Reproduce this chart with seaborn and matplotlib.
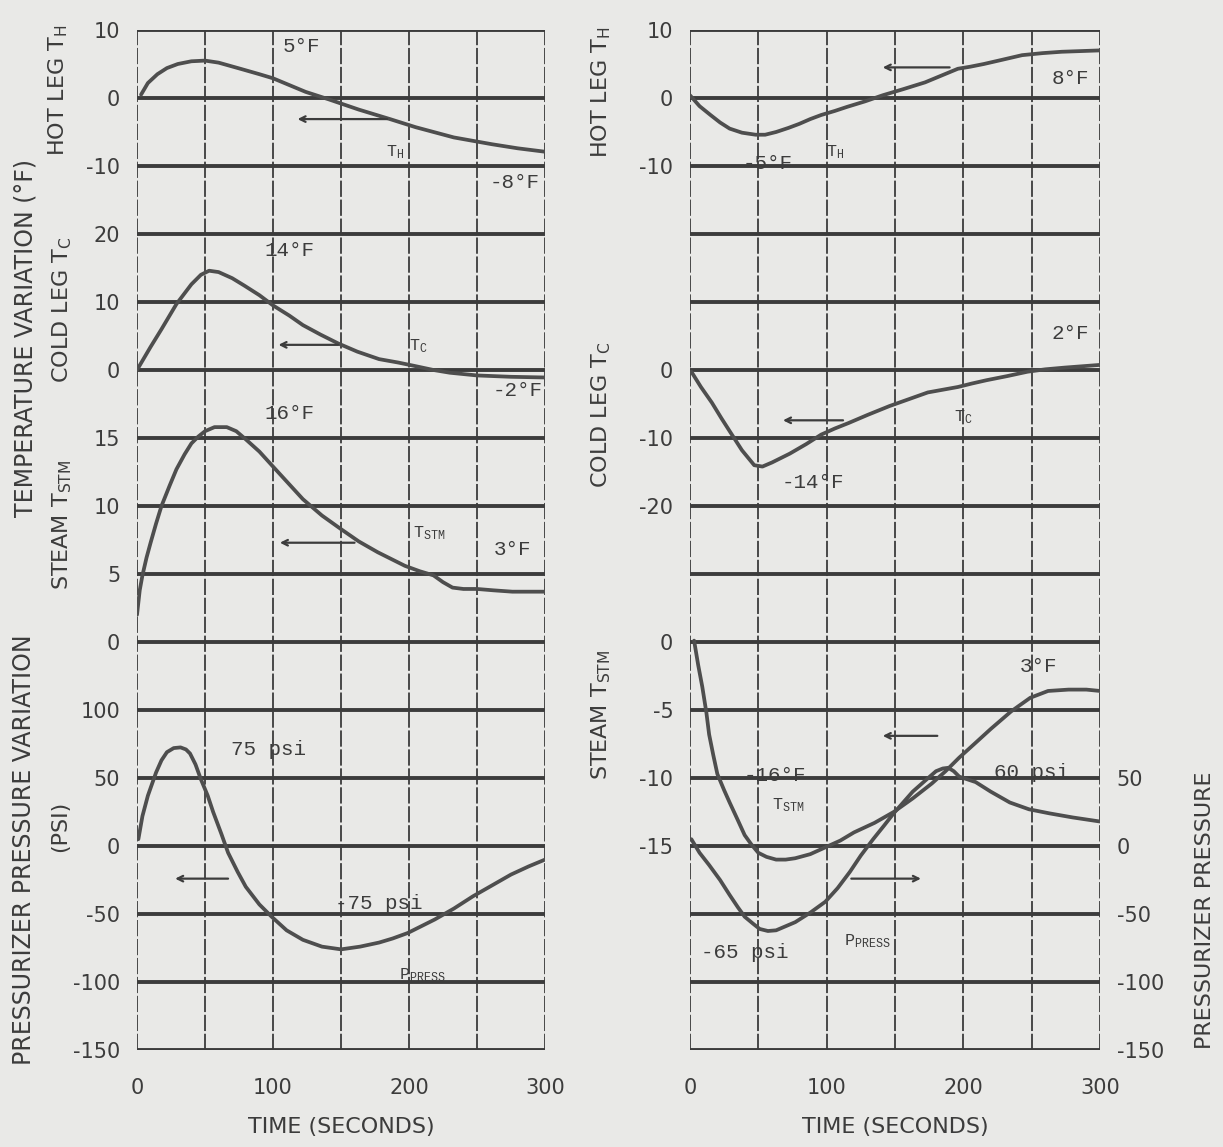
import matplotlib
matplotlib.use('Agg')
import numpy as np
import pandas as pd
import matplotlib.pyplot as plt
import seaborn as sns

#======================================================================================
# Data (time in seconds)
# Left panel
tHotL  = [3, 8, 15, 22, 30, 40, 50, 60, 76, 90, 100, 112, 124, 141, 163, 186, 205, 233, 261, 280, 300]
vHotL  = [0.5, 2.2, 3.5, 4.4, 5.0, 5.4, 5.5, 5.2, 4.3, 3.5, 2.9, 1.9, 0.9, -0.2, -1.7, -3.1, -4.3, -5.8, -6.8, -7.4, -7.9]

tColdL = [0, 10, 18, 29, 40, 47, 53, 60, 70, 79, 90, 100, 112, 122, 135, 148, 162, 178, 192, 204,
          218, 230, 250, 275, 300]
vColdL = [0, 3.4, 6.0, 9.7, 12.6, 14.0, 14.6, 14.4, 13.5, 12.4, 11.0, 9.5, 8.0, 6.6, 5.2, 3.9, 2.7, 1.6,
          1.1, 0.6, 0.0, -0.4, -0.8, -1.0, -1.1]

tStmL  = [0, 2, 4, 7, 10, 14, 18, 24, 29, 35, 40, 45, 50, 57, 66, 73, 80, 90, 100, 111, 122, 136, 150,
          163, 177, 187, 197, 208, 218, 225, 232, 240, 250, 262, 276, 290, 300]
vStmL  = [2.0, 3.8, 4.9, 6.2, 7.3, 8.7, 10.0, 11.5, 12.7, 13.8, 14.6, 15.1, 15.5, 15.8, 15.8, 15.5, 14.9,
          14.0, 12.9, 11.7, 10.5, 9.3, 8.3, 7.4, 6.6, 6.1, 5.6, 5.2, 4.9, 4.4, 4.0, 3.9, 3.9, 3.8, 3.7,
          3.7, 3.7]

tPrsL  = [1, 4, 8, 14, 18, 22, 27, 32, 36, 39, 43, 47, 52, 56, 62, 67, 74, 80, 90, 99, 110, 122, 136,
          150, 164, 178, 188, 199, 209, 219, 233, 247, 261, 275, 288, 300]
vPrsL  = [5, 22, 37, 54, 63, 69, 72, 72.5, 71, 68, 60, 49, 37, 25, 9, -5, -19, -30, -43, -52, -62, -69,
          -74, -76, -74, -71, -68, -64, -59, -54, -46, -37, -29, -21, -15, -10]

# Right panel
tHotR  = [0, 7, 15, 22, 29, 38, 48, 55, 63, 72, 80, 88, 96, 106, 115, 128, 141, 156, 172, 184, 196,
          205, 215, 228, 243, 258, 272, 286, 300]
vHotR  = [0.4, -1.2, -2.5, -3.6, -4.5, -5.1, -5.4, -5.4, -5.0, -4.4, -3.8, -3.1, -2.5, -1.9, -1.3,
          -0.5, 0.4, 1.3, 2.3, 3.3, 4.3, 4.6, 5.0, 5.6, 6.3, 6.6, 6.8, 6.9, 7.0]

tColdR = [1, 8, 16, 23, 30, 38, 47, 53, 60, 73, 85, 96, 106, 116, 130, 146, 160, 174, 185, 196, 206,
          217, 232, 247, 260, 274, 287, 300]
vColdR = [-0.25, -2.5, -4.8, -7.1, -9.3, -11.8, -14.0, -14.2, -13.6, -12.3, -10.9, -9.5, -8.6, -7.8,
          -6.6, -5.3, -4.3, -3.3, -2.9, -2.5, -2.0, -1.5, -0.9, -0.25, 0.1, 0.35, 0.55, 0.75]

tStmR  = [3, 6, 9, 12, 14, 17, 20, 25, 29, 35, 40, 45, 50, 56, 63, 70, 77, 88, 99, 110, 120, 135, 149,
          163, 177, 187, 197, 208, 220, 235, 249, 262, 277, 290, 300]
vStmR  = [0.1, -1.7, -3.3, -5.2, -6.8, -8.3, -9.7, -10.9, -11.8, -13.1, -14.2, -14.9, -15.5, -15.8,
          -16.0, -16.0, -15.9, -15.6, -15.1, -14.6, -14.0, -13.3, -12.5, -11.5, -10.4, -9.5, -8.5,
          -7.5, -6.4, -5.1, -4.1, -3.6, -3.5, -3.5, -3.6]

tPrsR  = [1, 7, 14, 22, 29, 35, 40, 46, 51, 57, 63, 70, 77, 88, 99, 108, 117, 125, 134, 142, 149, 156,
          163, 172, 180, 185, 189, 193, 197, 203, 209, 220, 234, 248, 263, 280, 300]
vPrsR  = [5, -5, -14, -25, -36, -45, -52, -57, -61, -62.5, -62, -59, -56, -49, -41, -31, -19, -7, 5, 15,
          24, 32, 40, 48, 55, 57, 57.5, 55, 51, 49, 47, 40, 32, 27, 24, 21, 18]

timeTicks = [0, 100, 200, 300]
#======================================================================================

sns.set_style('white')
plt.rcParams['font.family'] = ['DejaVu Sans']
plt.rcParams['axes.unicode_minus'] = False

paper = '#e9e9e7'
ink   = '#3c3c3c'
curve = '#4e4e4e'
typeFont = ['Liberation Mono', 'DejaVu Sans Mono']

fig = plt.figure(figsize=(12.23, 11.47), dpi=100, facecolor=paper)

panelBottom = 1 - 1050 / 1147
panelHeight = 1020 / 1147


def makePanel(leftPx, rightPx):
    rect = [leftPx / 1223, panelBottom, (rightPx - leftPx) / 1223, panelHeight]
    base = fig.add_axes(rect)
    base.set_facecolor(paper)
    base.set_xlim(0, 300)
    base.set_ylim(0, 15)
    for k in range(16):
        base.axhline(k, color=ink, lw=2.8, zorder=1)
    for x in range(0, 301, 50):
        base.axvline(x, color=ink, lw=1.3, ls=(0, (9, 1.5)), zorder=1)
    base.set_yticks([])
    base.set_xticks(timeTicks)
    base.set_xticklabels([str(v) for v in timeTicks])
    base.tick_params(axis='x', length=0, labelsize=15, colors=ink, pad=20)
    base.set_xlabel('TIME (SECONDS)', fontsize=16, color=ink, labelpad=14)
    for s in base.spines.values():
        s.set_visible(False)
    return base, rect


def overlay(rect, lo, hi, ticks, side='left'):
    ax = fig.add_axes(rect)
    ax.patch.set_alpha(0)
    ax.set_xlim(0, 300)
    ax.set_ylim(lo, hi)
    ax.set_xticks([])
    ax.set_yticks(ticks)
    ax.set_yticklabels([str(v) for v in ticks])
    ax.yaxis.set_ticks_position(side)
    ax.tick_params(axis='y', length=0, labelsize=15, colors=ink, pad=12)
    for s in ax.spines.values():
        s.set_visible(False)
    return ax


def draw(ax, t, v):
    sns.lineplot(x=t, y=v, ax=ax, color=curve, lw=2.7, sort=False)
    ax.set_xlabel('')
    ax.set_ylabel('')


def note(ax, x, y, s, size=15):
    ax.text(x, y, s, fontsize=size, color=ink, family=typeFont, ha='center', va='center')


def arrow(ax, x0, x1, y):
    ax.annotate('', xy=(x1, y), xytext=(x0, y),
                arrowprops=dict(arrowstyle='->', color=ink, lw=1.6))


#======================================================================================
# Left panel
baseL, rectL = makePanel(137, 545)
axHL = overlay(rectL, -140, 10, [10, 0, -10])
axCL = overlay(rectL, -100, 50, [20, 10, 0])
axSL = overlay(rectL, -30, 45, [15, 10, 5, 0])
axPL = overlay(rectL, -150, 600, [100, 50, 0, -50, -100, -150])

draw(axHL, tHotL, vHotL)
draw(axCL, tColdL, vColdL)
draw(axSL, tStmL, vStmL)
draw(axPL, tPrsL, vPrsL)

note(axHL, 121, 7.5, '5°F')
note(axHL, 190, -8.0, r'$\mathregular{T_H}$', 12)
note(axHL, 278, -12.5, '-8°F')
arrow(axHL, 186, 116, -3.1)

note(axCL, 112, 17.5, '14°F')
note(axCL, 207, 3.5, r'$\mathregular{T_C}$', 12)
note(axCL, 280, -3.0, '-2°F')
arrow(axCL, 150, 102, 3.7)

note(axSL, 112, 16.8, '16°F')
note(axSL, 215, 8.0, r'$\mathregular{T_{STM}}$', 12)
note(axSL, 276, 6.8, '3°F')
arrow(axSL, 162, 103, 7.3)

note(axPL, 97, 71, '75 psi')
note(axPL, 178, -42, '-75 psi')
note(axPL, 210, -95, r'$\mathregular{P_{PRESS}}$', 12)
arrow(axPL, 69, 26, -24)

#======================================================================================
# Right panel
baseR, rectR = makePanel(690, 1100)
axHR = overlay(rectR, -140, 10, [10, 0, -10])
axCR = overlay(rectR, -100, 50, [0, -10, -20])
axSR = overlay(rectR, -30, 45, [0, -5, -10, -15])
axPR = overlay(rectR, -150, 600, [50, 0, -50, -100, -150], side='right')

draw(axHR, tHotR, vHotR)
draw(axCR, tColdR, vColdR)
draw(axSR, tStmR, vStmR)
draw(axPR, tPrsR, vPrsR)

note(axHR, 278, 2.8, '8°F')
note(axHR, 106, -8.0, r'$\mathregular{T_H}$', 12)
note(axHR, 57, -9.6, '-5°F')
arrow(axHR, 192, 139, 4.5)

note(axCR, 90, -16.5, '-14°F')
note(axCR, 200, -7.0, r'$\mathregular{T_C}$', 12)
note(axCR, 278, 5.3, '2°F')
arrow(axCR, 114, 66, -7.4)

note(axSR, 62, -9.8, '-16°F')
note(axSR, 72, -12.0, r'$\mathregular{T_{STM}}$', 12)
note(axSR, 255, -1.8, '3°F')
arrow(axSR, 183, 139, -6.9)

note(axPR, 250, 54, '60 psi')
note(axPR, 40, -78, '-65 psi')
note(axPR, 130, -70, r'$\mathregular{P_{PRESS}}$', 12)
arrow(axPR, 116, 171, -24)

#======================================================================================
# Axis titles
def vtext(xPx, yPx, s, size=16, rot=90):
    fig.text(xPx / 1223, 1 - yPx / 1147, s, rotation=rot, fontsize=size, color=ink,
             ha='center', va='center')

vtext(58, 90, r'HOT LEG $\mathregular{T_H}$')
vtext(26, 338, 'TEMPERATURE VARIATION (°F)', 17)
vtext(62, 310, r'COLD LEG $\mathregular{T_C}$')
vtext(62, 525, r'STEAM $\mathregular{T_{STM}}$')
vtext(24, 850, 'PRESSURIZER PRESSURE VARIATION', 17)
vtext(60, 826, '(PSI)')

vtext(601, 92, r'HOT LEG $\mathregular{T_H}$')
vtext(601, 415, r'COLD LEG $\mathregular{T_C}$')
vtext(601, 715, r'STEAM $\mathregular{T_{STM}}$')
vtext(1205, 910, 'PRESSURIZER PRESSURE', 16)

fig.savefig('out.png', dpi=100, facecolor=paper)
